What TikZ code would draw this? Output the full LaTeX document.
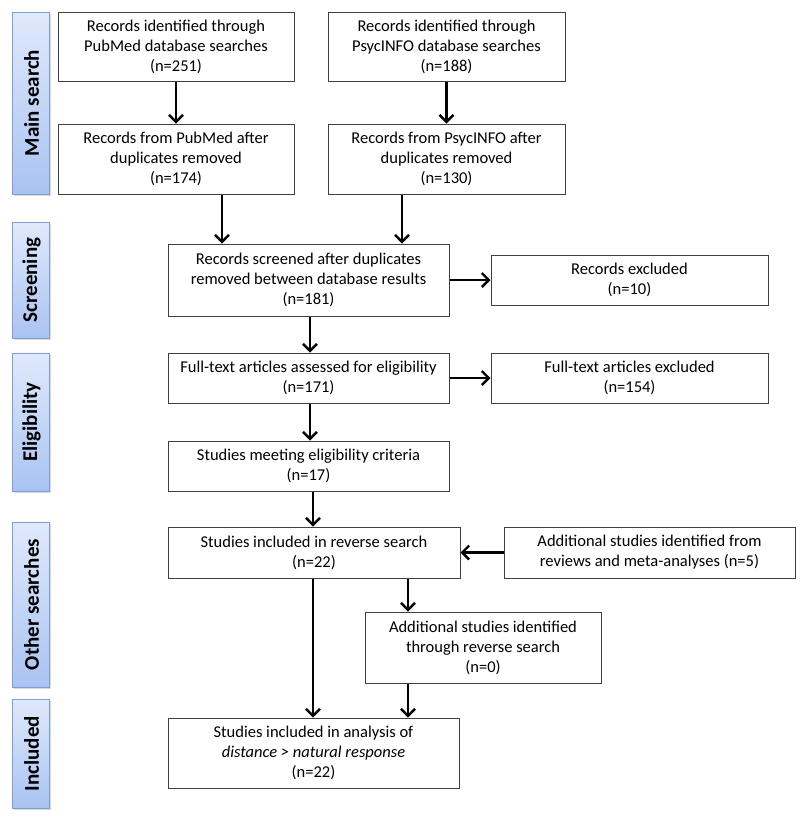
\documentclass[tikz,border=0pt]{standalone}
\usepackage{fontspec}
\setmainfont{Carlito}
\usetikzlibrary{arrows.meta,shadows}
\definecolor{phasefillA}{HTML}{E0E9FC}
\definecolor{phasefillB}{HTML}{A9C3F1}
\definecolor{phaseline}{HTML}{7E9ED6}
\begin{document}
\begin{tikzpicture}[x=1pt,y=-1pt,
  box/.style={draw=black!75,line width=1pt,fill=white,align=center,inner sep=2pt,
    font=\fontsize{16.5}{20}\selectfont},
  phase/.style={draw=phaseline,line width=1pt,top color=phasefillA,bottom color=phasefillB,
    drop shadow={shadow xshift=1.5pt,shadow yshift=-1.5pt,opacity=0.3}},
  arr/.style={line width=2.6pt,-{Straight Barb[length=7pt,width=14pt,line width=2.4pt]}}]
\useasboundingbox (0,0) rectangle (800,820);
% phase labels
\foreach \nm/\ya/\yb/\tx in {ms/12/194/Main search, sc/222/338/Screening, el/353/491/Eligibility, ot/522/687/Other searches, in/699/808/Included}{
  \path[phase] (12,\ya) rectangle (49,\yb);
  \node[rotate=90,font=\fontsize{21}{23}\selectfont\bfseries] (\nm) at (31.5,{(\ya+\yb)/2}) {\tx};
}
% boxes
\node[box,minimum width=236pt,minimum height=69pt] (pm1) at (176,46.5) {Records identified through\\PubMed database searches\\(n=251)};
\node[box,minimum width=236pt,minimum height=70pt] (pm2) at (176,159) {Records from PubMed after\\duplicates removed\\(n=174)};
\node[box,minimum width=237pt,minimum height=69pt] (ps1) at (446.5,46.5) {Records identified through\\PsycINFO database searches\\(n=188)};
\node[box,minimum width=237pt,minimum height=70pt] (ps2) at (446.5,159) {Records from PsycINFO after\\duplicates removed\\(n=130)};
\node[box,minimum width=281pt,minimum height=72pt] (scr) at (308.5,280) {Records screened after duplicates\\removed between database results\\(n=181)};
\node[box,minimum width=277pt,minimum height=50pt] (ex1) at (629.5,280) {Records excluded\\(n=10)};
\node[box,minimum width=281pt,minimum height=50pt] (ft) at (308.5,378) {Full-text articles assessed for eligibility\\(n=171)};
\node[box,minimum width=277pt,minimum height=50pt] (ex2) at (629.5,378) {Full-text articles excluded\\(n=154)};
\node[box,minimum width=281pt,minimum height=50pt] (mt) at (308.5,466) {Studies meeting eligibility criteria\\(n=17)};
\node[box,minimum width=292pt,minimum height=51pt] (rv) at (314,552.5) {Studies included in reverse search\\(n=22)};
\node[box,minimum width=291pt,minimum height=51pt] (ra) at (649.5,552.5) {Additional studies identified from\\reviews and meta-analyses (n=5)};
\node[box,minimum width=236pt,minimum height=71pt] (ad) at (483,647.5) {Additional studies identified\\through reverse search\\(n=0)};
\node[box,minimum width=291pt,minimum height=70pt] (fi) at (313.5,753) {Studies included in analysis of\\\textit{distance > natural response}\\(n=22)};
% helper x positions
\coordinate (xa) at (222,0);
\coordinate (xb) at (402,0);
\coordinate (xc) at (310,0);
\coordinate (xd) at (313,0);
\coordinate (xe) at (408,0);
% connectors
\draw[arr] (pm1) -- (pm2);
\draw[arr] (ps1) -- (ps2);
\draw[arr] (pm2.south -| xa) -- (scr.north -| xa);
\draw[arr] (ps2.south -| xb) -- (scr.north -| xb);
\draw[arr] (scr) -- (ex1);
\draw[arr] (scr.south -| xc) -- (ft.north -| xc);
\draw[arr] (ft) -- (ex2);
\draw[arr] (ft.south -| xc) -- (mt.north -| xc);
\draw[arr] (mt.south -| xd) -- (rv.north -| xd);
\draw[arr] (ra) -- (rv);
\draw[arr] (rv.south -| xd) -- (fi.north -| xd);
\draw[arr] (rv.south -| xe) -- (ad.north -| xe);
\draw[arr] (ad.south -| xe) -- (fi.north -| xe);
\end{tikzpicture}
\end{document}
